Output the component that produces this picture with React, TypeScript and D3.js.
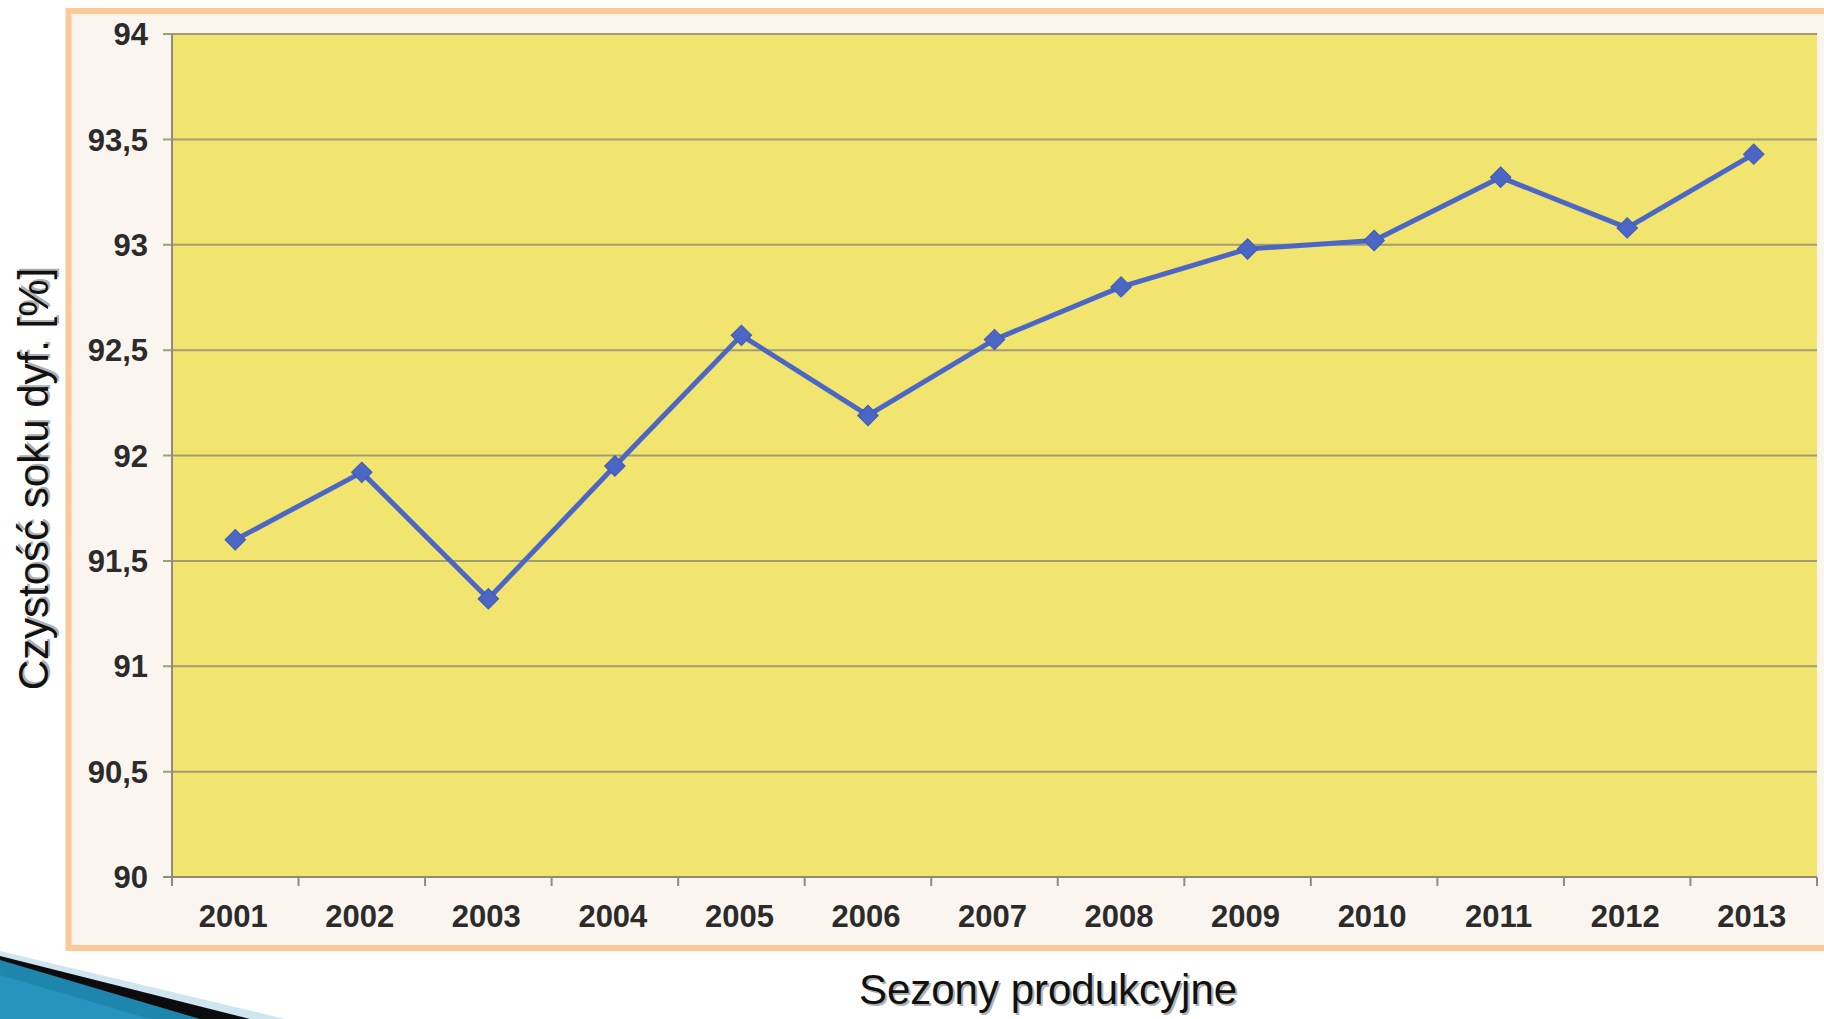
import React from "react";
import * as d3 from "d3";

const W = 1824;
const H = 1019;

const years = ["2001", "2002", "2003", "2004", "2005", "2006", "2007", "2008", "2009", "2010", "2011", "2012", "2013"];
const purity = [91.6, 91.92, 91.32, 91.95, 92.57, 92.19, 92.55, 92.8, 92.98, 93.02, 93.32, 93.08, 93.43];
const yTicks = [90, 90.5, 91, 91.5, 92, 92.5, 93, 93.5, 94];

const yTitle = "Czystość soku dyf. [%]";
const xTitle = "Sezony produkcyjne";

const App = () => {
  const x = d3.scaleBand<string>().domain(years).range([172, 1817]);
  const y = d3.scaleLinear().domain([90, 94]).range([877, 34]);

  const line = d3
    .line<number>()
    .x((_, i) => (x(years[i]) as number) + x.bandwidth() / 2)
    .y((d) => y(d));

  const marker = d3.symbol().type(d3.symbolSquare).size(210)();
  const fmt = (v: number) => d3.format("")(v).replace(".", ",");
  const boundaries = years.map((yr) => x(yr) as number).concat([x.range()[1]]);

  return (
    <svg width={W} height={H} style={{ position: "absolute", left: 0, top: 0 }}>
      <rect x={0} y={0} width={W} height={H} fill="#ffffff" />
      {/* frame */}
      <rect x={68.5} y={11} width={W} height={937} fill="#faf6ef" stroke="#ffc898" strokeWidth={6} />
      {/* plot area */}
      <rect x={x.range()[0]} y={y(94)} width={x.range()[1] - x.range()[0]} height={y(90) - y(94)} fill="#f1e46f" />
      {/* gridlines */}
      <g>
        {yTicks.map((t) => (
          <line key={t} x1={163} x2={x.range()[1]} y1={y(t)} y2={y(t)} stroke={t === 90 ? "#8e8c78" : "#a39d74"} strokeWidth={2} />
        ))}
        <line x1={172} x2={172} y1={y(94)} y2={y(90) + 9} stroke="#8e8c80" strokeWidth={2} />
        {boundaries.slice(1).map((b, i) => (
          <line key={i} x1={b} x2={b} y1={y(90)} y2={y(90) + 9} stroke="#8e8c80" strokeWidth={2} />
        ))}
      </g>
      {/* y tick labels */}
      <g fontFamily="Liberation Sans, Arial, sans-serif" fontWeight="bold" fontSize={31} fill="#2b2b2b" textAnchor="end">
        {yTicks.map((t) => (
          <text key={t} x={148} y={y(t)} dy="0.36em">
            {fmt(t)}
          </text>
        ))}
      </g>
      {/* x tick labels */}
      <g fontFamily="Liberation Sans, Arial, sans-serif" fontWeight="bold" fontSize={31} fill="#2b2b2b" textAnchor="middle">
        {years.map((yr) => (
          <text key={yr} x={(x(yr) as number) + x.bandwidth() / 2 - 2} y={927}>
            {yr}
          </text>
        ))}
      </g>
      {/* series */}
      <path d={line(purity) ?? ""} fill="none" stroke="#4c66c6" strokeWidth={5} strokeLinejoin="round" />
      {purity.map((v, i) => (
        <path
          key={i}
          d={marker ?? ""}
          transform={`translate(${(x(years[i]) as number) + x.bandwidth() / 2},${y(v)}) rotate(45)`}
          fill="#4c66c6"
          stroke="#3f58b4"
          strokeWidth={1}
        />
      ))}
      {/* axis titles with shadow */}
      <g fontFamily="Liberation Sans, Arial, sans-serif" fontSize={42} textAnchor="middle">
        <text transform="translate(48,479) rotate(-90)" x={2} y={2} fill="#b0b0b0">{yTitle}</text>
        <text transform="translate(48,479) rotate(-90)" fill="#111">{yTitle}</text>
        <text x={1050} y={1006} fill="#b0b0b0">{xTitle}</text>
        <text x={1048} y={1004} fill="#111">{xTitle}</text>
      </g>
      {/* decorative swoosh */}
      <polygon points="0,951 285,1019 0,1019" fill="#cfe6f0" />
      <polygon points="0,956 250,1019 0,1019" fill="#0c0c0c" />
      <polygon points="0,960 200,1019 0,1019" fill="#1e86ad" />
      <polygon points="0,975 150,1019 0,1019" fill="#2a9ac2" opacity={0.7} />
    </svg>
  );
};

export default App;
